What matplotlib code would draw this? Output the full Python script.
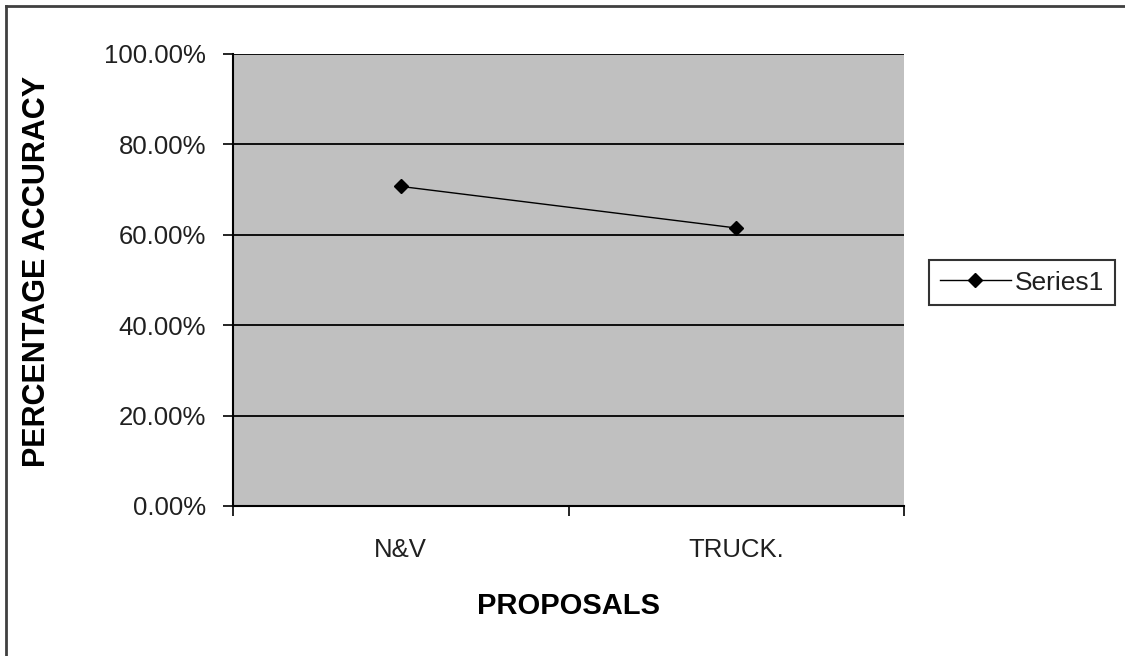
#!/usr/bin/env python3
import matplotlib
matplotlib.use('Agg')
import matplotlib.pyplot as plt
from matplotlib.lines import Line2D
from matplotlib.ticker import FixedLocator, FuncFormatter

matplotlib.rcParams['font.family'] = ['Liberation Sans', 'DejaVu Sans']

# Data
categories = ['N&V', 'TRUCK.']
accuracy   = [0.707, 0.615]
y_ticks    = [0.0, 0.2, 0.4, 0.6, 0.8, 1.0]
series_name = 'Series1'

fig = plt.figure(figsize=(11.25, 6.56), dpi=100)
ax = fig.add_axes([0.2071, 0.2287, 0.5965, 0.689])
ax.set_facecolor('#c0c0c0')

x = list(range(len(categories)))
ax.plot(x, accuracy, '-', color='black', lw=1.0, marker='D', markersize=7,
        label=series_name, zorder=3)

ax.set_xlim(-0.5, len(categories) - 0.5)
ax.set_ylim(0, 1.0)

# y axis
ax.set_yticks(y_ticks)
ax.yaxis.set_major_formatter(FuncFormatter(lambda v, p: f'{v*100:.2f}%'))
ax.tick_params(axis='y', which='major', direction='out', length=7.5, width=1.2,
               pad=12, labelsize=18.5, labelcolor='#202020')
ax.grid(axis='y', color='black', lw=1.3, zorder=1)

# x axis: ticks between categories, labels at category centres
ax.xaxis.set_major_locator(FixedLocator([i - 0.5 for i in range(len(categories) + 1)]))
ax.xaxis.set_major_formatter(FuncFormatter(lambda v, p: ''))
ax.xaxis.set_minor_locator(FixedLocator(x))
ax.set_xticklabels(categories, minor=True)
ax.tick_params(axis='x', which='major', direction='out', length=7.5, width=1.2)
ax.tick_params(axis='x', which='minor', length=0, pad=23, labelsize=18.5,
               labelcolor='#202020')

for s in ['top', 'right']:
    ax.spines[s].set_visible(False)
for s in ['left', 'bottom']:
    ax.spines[s].set_color('black')
    ax.spines[s].set_linewidth(1.5)

ax.set_xlabel('PROPOSALS', fontsize=21, fontweight='bold')
ax.set_ylabel('PERCENTAGE ACCURACY', fontsize=22, fontweight='bold')
ax.yaxis.set_label_coords(-0.27, 0.52)
ax.xaxis.set_label_coords(0.5, -0.19)

legend = fig.legend(loc='center left', bbox_to_anchor=(0.826, 0.569),
                    fontsize=19, frameon=True, fancybox=False, handlelength=2.7,
                    borderpad=0.4, handletextpad=0.15, borderaxespad=0)
legend.get_frame().set_edgecolor('black')
legend.get_frame().set_linewidth(1.5)
for t in legend.texts:
    t.set_color('#202020')

# outer chart border (left and top)
fig.add_artist(Line2D([6/1125, 6/1125], [0, 1 - 6/656], transform=fig.transFigure,
                      color='#404040', lw=2))
fig.add_artist(Line2D([6/1125, 1], [1 - 6/656, 1 - 6/656], transform=fig.transFigure,
                      color='#404040', lw=2))

fig.savefig('out.png', dpi=100)
